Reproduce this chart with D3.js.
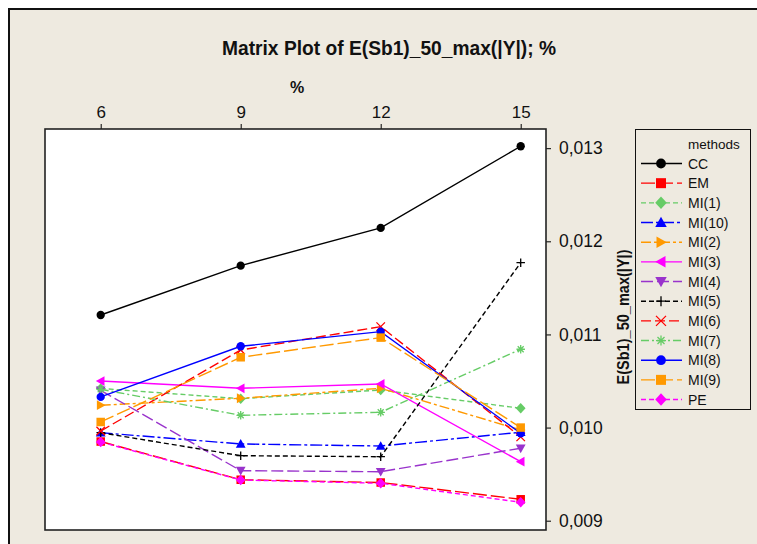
<!DOCTYPE html>
<html><head><meta charset="utf-8">
<script src="https://cdn.jsdelivr.net/npm/d3@7"></script>
<style>body{margin:0;background:#fff}svg{display:block}text{font-family:"Liberation Sans",Arial,sans-serif}</style>
</head><body>
<svg id="c" width="757" height="544"></svg>
<script>
const xCats = [6, 9, 12, 15];
const yTicks = [0.009, 0.010, 0.011, 0.012, 0.013];
const methods = ["CC","EM","MI(1)","MI(10)","MI(2)","MI(3)","MI(4)","MI(5)","MI(6)","MI(7)","MI(8)","MI(9)","PE"];
const CC     = [0.011209, 0.011739, 0.012144, 0.013021];
const EM     = [0.009850, 0.009440, 0.009410, 0.009230];
const MI1    = [0.010420, 0.010310, 0.010404, 0.010207];
const MI10   = [0.009945, 0.009824, 0.009802, 0.009950];
const MI2    = [0.010240, 0.010315, 0.010422, 0.009974];
const MI3    = [0.010500, 0.010422, 0.010468, 0.009634];
const MI4    = [0.010400, 0.009537, 0.009526, 0.009778];
const MI5    = [0.009945, 0.009698, 0.009687, 0.011771];
const MI6    = [0.009963, 0.010833, 0.011084, 0.009900];
const MI7    = [0.010411, 0.010132, 0.010164, 0.010841];
const MI8    = [0.010329, 0.010873, 0.011030, 0.009939];
const MI9    = [0.010060, 0.010755, 0.010966, 0.010000];
const PE     = [0.009845, 0.009437, 0.009402, 0.009198];
const seriesValues = [CC, EM, MI1, MI10, MI2, MI3, MI4, MI5, MI6, MI7, MI8, MI9, PE];

const colors = ["#000000","#ff0000","#66cc66","#0000ff","#ff9900","#ff00ff","#9933cc","#000000","#ff0000","#66cc66","#0000ff","#ff9900","#ff00ff"];
const dashes = ["none","14,4","5,3","12,3,3,3","10,3,3,3","none","12,4","5,3","10,4","8,3,2,3","none","14,4","5,3"];
const shapes = ["circle","square","diamond","triUp","triRight","triLeft","triDown","plus","cross","star","circle","square","diamond"];

const svg = d3.select("#c");
const bg = "#eeeae0";
svg.append("rect").attr("x",9).attr("y",9).attr("width",760).attr("height",550)
  .attr("fill",bg).attr("stroke","#111").attr("stroke-width",2);

const P = {l:45, t:129, r:546, b:530};
const x = d3.scaleLinear().domain([6,15]).range([100.7,520.7]);
const y = d3.scaleLinear().domain([0.009,0.013]).range([520.7,148.2]);

svg.append("rect").attr("x",P.l).attr("y",P.t).attr("width",P.r-P.l).attr("height",P.b-P.t)
  .attr("fill","#fff");

// axes
const xAx = svg.append("g").attr("transform",`translate(0,${P.t})`)
  .call(d3.axisTop(x).tickValues(xCats).tickSize(5).tickFormat(d3.format("d")));
xAx.select(".domain").remove();
xAx.selectAll("text").attr("font-size",17).attr("fill","#111").attr("dy","-0.15em");
const yAx = svg.append("g").attr("transform",`translate(${P.r},0)`)
  .call(d3.axisRight(y).tickValues(yTicks).tickSize(5).tickPadding(8).tickFormat(d=>d3.format(".3f")(d).replace(".",",")));
yAx.select(".domain").remove();
yAx.selectAll("text").attr("font-size",17.5).attr("fill","#111");

svg.append("rect").attr("x",P.l).attr("y",P.t).attr("width",P.r-P.l).attr("height",P.b-P.t)
  .attr("fill","none").attr("stroke","#222").attr("stroke-width",1.6);

function symbolPath(shape, s){
  const h = s/2;
  switch(shape){
    case "circle": return d3.symbol(d3.symbolCircle, s*s*0.75)();
    case "square": return `M${-h},${-h}H${h}V${h}H${-h}Z`;
    case "diamond": return `M0,${-h*1.25}L${h*1.15},0L0,${h*1.25}L${-h*1.15},0Z`;
    case "triUp": return `M0,${-h*1.15}L${h*1.15},${h*0.9}L${-h*1.15},${h*0.9}Z`;
    case "triDown": return `M0,${h*1.15}L${h*1.15},${-h*0.9}L${-h*1.15},${-h*0.9}Z`;
    case "triRight": return `M${h*1.15},0L${-h*0.9},${h*1.15}L${-h*0.9},${-h*1.15}Z`;
    case "triLeft": return `M${-h*1.15},0L${h*0.9},${h*1.15}L${h*0.9},${-h*1.15}Z`;
    case "plus": return `M${-h},0H${h}M0,${-h}V${h}`;
    case "cross": return `M${-h},${-h}L${h},${h}M${-h},${h}L${h},${-h}`;
    case "star": return `M${-h},0H${h}M${-h*0.7},${-h*0.7}L${h*0.7},${h*0.7}M${-h*0.7},${h*0.7}L${h*0.7},${-h*0.7}M0,${-h}V${h}`;
  }
}
const openShapes = new Set(["plus","cross","star"]);
function drawMarker(g, i, cx, cy, s){
  const sh = shapes[i];
  const p = g.append("path").attr("d", symbolPath(sh, s)).attr("transform",`translate(${cx},${cy})`);
  if (openShapes.has(sh)) p.attr("fill","none").attr("stroke",colors[i]).attr("stroke-width",1.3);
  else p.attr("fill",colors[i]).attr("stroke","none");
}

const line = d3.line().x((d,j)=>x(xCats[j])).y(d=>y(d));
const plot = svg.append("g");
seriesValues.forEach((vals,i)=>{
  plot.append("path").datum(vals).attr("d",line).attr("fill","none")
    .attr("stroke",colors[i]).attr("stroke-width",1.4)
    .attr("stroke-dasharray",dashes[i]==="none"?null:dashes[i]);
  vals.forEach((v,j)=>drawMarker(plot,i,x(xCats[j]),y(v),8.5));
});

// titles
svg.append("text").attr("x",389).attr("y",55).attr("text-anchor","middle")
  .attr("font-size",21).attr("font-weight","bold").attr("fill","#111")
  .style("font-family","'Liberation Sans Narrow','Liberation Sans',Arial,sans-serif")
  .attr("textLength",334).attr("lengthAdjust","spacingAndGlyphs")
  .text("Matrix Plot of E(Sb1)_50_max(|Y|); %");
svg.append("text").attr("x",297).attr("y",93).attr("text-anchor","middle")
  .attr("font-size",16).attr("font-weight","bold").attr("fill","#111").text("%");
svg.append("text").attr("transform","translate(629,317) rotate(-90)").attr("text-anchor","middle")
  .attr("font-size",16).attr("font-weight","bold").attr("fill","#111")
  .attr("textLength",135).attr("lengthAdjust","spacingAndGlyphs")
  .text("E(Sb1)_50_max(|Y|)");

// legend
const L = svg.append("g");
L.append("rect").attr("x",635.5).attr("y",129.5).attr("width",115).attr("height",280)
  .attr("fill",bg).attr("stroke","#111").attr("stroke-width",1);
L.append("text").attr("x",688).attr("y",149).attr("font-size",13.5).attr("fill","#111").text("methods");
methods.forEach((m,i)=>{
  const cy = 163.5 + i*19.67;
  L.append("line").attr("x1",641).attr("x2",682).attr("y1",cy).attr("y2",cy)
    .attr("stroke",colors[i]).attr("stroke-width",1.4)
    .attr("stroke-dasharray",dashes[i]==="none"?null:dashes[i]);
  drawMarker(L,i,661,cy,10);
  L.append("text").attr("x",688).attr("y",cy+5).attr("font-size",14).attr("fill","#111").text(m);
});
</script>
</body></html>
